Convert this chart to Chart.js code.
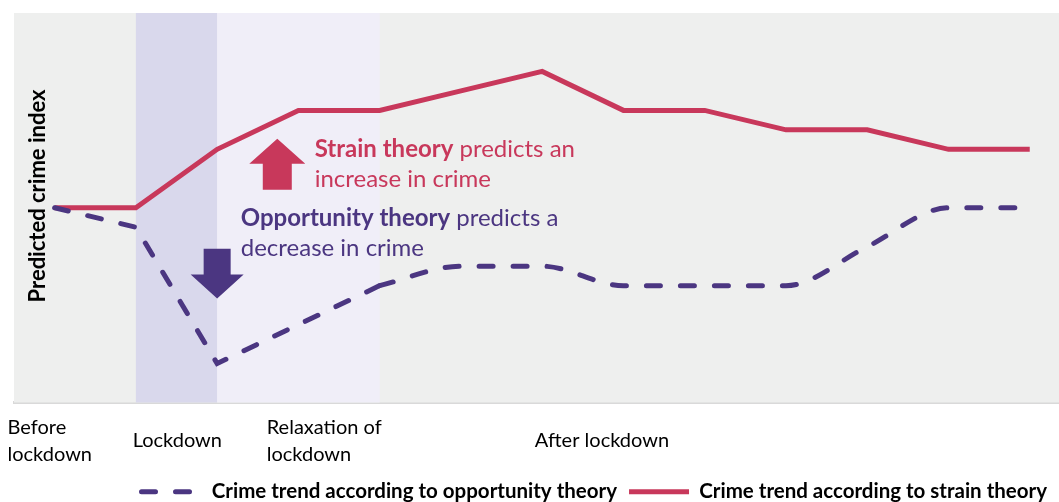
<!DOCTYPE html>
<html>
<head>
<meta charset="utf-8">
<script src="https://cdn.jsdelivr.net/npm/chart.js@4.4.1/dist/chart.umd.min.js"></script>
<style>
  html, body { margin: 0; padding: 0; background: #fff; }
  #wrap { width: 1059px; height: 502px; position: relative; }
</style>
</head>
<body>
<div id="wrap"><canvas id="chart"></canvas></div>
<script>
// x index of each point on the two trend lines
var steps = [0, 1, 2, 3, 4, 5, 6, 7, 8, 9, 10, 11, 12];
var strainTrend = [100, 100, 115, 125, 125, 130, 135, 125, 125, 120, 120, 115, 115];
var opportunityTrend = [100, 95, 60, 70, 80, 85, 85, 80, 80, 80, 90, 100, 100];
// opportunity line is straight up to this step, smoothed after it
var smoothFrom = 4;

// period labels under the axis, and the x index where each one starts
var periodLabels = [['Before', 'lockdown'], 'Lockdown', ['Relaxation of', 'lockdown'], 'After lockdown'];
var periodStarts = [-0.58, 0.96, 2.61, 5.91];

// shaded periods [from, to]
var lockdownBand = [1, 2];
var relaxationBand = [2, 4];

var seriesNames = ['Crime trend according to opportunity theory', 'Crime trend according to strain theory'];

var RED = '#C8385B', PURPLE = '#4B3681';
var FONT = 'Lato, "Open Sans", sans-serif';

function pts(from, to) {
  var out = [];
  for (var i = from; i <= to; i++) out.push({ x: steps[i], y: opportunityTrend[i] });
  return out;
}

// gray plot area + the two lavender bands
var backdrop = {
  id: 'backdrop',
  beforeDatasetsDraw: function(chart) {
    var ctx = chart.ctx, a = chart.chartArea, xs = chart.scales.x;
    ctx.save();
    ctx.fillStyle = '#EEEFEE';
    ctx.fillRect(a.left, a.top, a.right - a.left, a.bottom - a.top);
    ctx.fillStyle = '#D9D8EC';
    var x0 = xs.getPixelForValue(lockdownBand[0]), x1 = xs.getPixelForValue(lockdownBand[1]);
    ctx.fillRect(x0, a.top, x1 - x0, a.bottom - a.top);
    ctx.fillStyle = '#F0EEF8';
    x0 = xs.getPixelForValue(relaxationBand[0]); x1 = xs.getPixelForValue(relaxationBand[1]);
    ctx.fillRect(x0, a.top, x1 - x0, a.bottom - a.top);
    ctx.restore();
  }
};

function arrow(ctx, cx, tipY, baseY, shaftW, headW, headLen, color) {
  var d = baseY > tipY ? 1 : -1;
  ctx.fillStyle = color;
  ctx.beginPath();
  ctx.moveTo(cx, tipY);
  ctx.lineTo(cx + headW / 2, tipY + d * headLen);
  ctx.lineTo(cx + shaftW / 2, tipY + d * headLen);
  ctx.lineTo(cx + shaftW / 2, baseY);
  ctx.lineTo(cx - shaftW / 2, baseY);
  ctx.lineTo(cx - shaftW / 2, tipY + d * headLen);
  ctx.lineTo(cx - headW / 2, tipY + d * headLen);
  ctx.closePath();
  ctx.fill();
}

function mixed(ctx, x, y, bold, rest, color) {
  ctx.fillStyle = color;
  ctx.font = 'bold 24px ' + FONT;
  ctx.fillText(bold, x, y);
  var w = ctx.measureText(bold).width;
  ctx.font = '24px ' + FONT;
  ctx.fillText(rest, x + w, y);
}

// arrows, notes and the y title (sits inside the plot area)
var notes = {
  id: 'notes',
  afterDatasetsDraw: function(chart) {
    var ctx = chart.ctx, xs = chart.scales.x, ys = chart.scales.y, a = chart.chartArea;
    ctx.save();
    arrow(ctx, xs.getPixelForValue(2.74), ys.getPixelForValue(117.7), ys.getPixelForValue(104.6), 29, 56, 25, RED);
    arrow(ctx, xs.getPixelForValue(2.0), ys.getPixelForValue(76.7), ys.getPixelForValue(89.5), 27, 53, 24, PURPLE);

    ctx.textBaseline = 'middle';
    ctx.textAlign = 'left';
    var sx = xs.getPixelForValue(3.2);
    mixed(ctx, sx, ys.getPixelForValue(115), 'Strain theory', ' predicts an', RED);
    mixed(ctx, sx, ys.getPixelForValue(107.4), '', 'increase in crime', RED);
    var ox = xs.getPixelForValue(2.29);
    mixed(ctx, ox, ys.getPixelForValue(97.2), 'Opportunity theory', ' predicts a', PURPLE);
    mixed(ctx, ox, ys.getPixelForValue(89.5), '', 'decrease in crime', PURPLE);

    ctx.translate(a.left + 24, a.top + 183);
    ctx.rotate(-Math.PI / 2);
    ctx.textAlign = 'center';
    ctx.fillStyle = '#000';
    ctx.font = 'bold 22px ' + FONT;
    ctx.fillText('Predicted crime index', 0, 0);
    ctx.restore();
  }
};

var dashed = {
  borderColor: PURPLE, backgroundColor: PURPLE, borderWidth: 5,
  borderDash: [14, 20], borderCapStyle: 'round', pointRadius: 0
};

new Chart(document.getElementById('chart'), {
  type: 'line',
  data: {
    datasets: [
      Object.assign({ label: seriesNames[0], data: pts(0, smoothFrom), tension: 0 }, dashed),
      Object.assign({ label: '', data: pts(smoothFrom, steps.length - 1), cubicInterpolationMode: 'monotone' }, dashed),
      {
        label: seriesNames[1],
        data: steps.map(function(s, i) { return { x: s, y: strainTrend[i] }; }),
        borderColor: RED, backgroundColor: RED, borderWidth: 5, pointRadius: 0, tension: 0
      }
    ]
  },
  options: {
    responsive: true,
    maintainAspectRatio: false,
    animation: false,
    layout: { padding: { top: 13, left: 14, right: 0, bottom: -10 } },
    scales: {
      x: {
        type: 'linear', min: -0.5, max: 12.36, bounds: 'data',
        grid: { display: false, drawTicks: false },
        border: { color: '#D9D9D9', width: 3 },
        afterBuildTicks: function(axis) {
          axis.ticks = periodStarts.map(function(v) { return { value: v }; });
        },
        // padding is counted twice by the fit, take the extra back off
        afterFit: function(axis) {
          axis.height -= 37;
          axis.paddingLeft = 0;
          axis.paddingRight = 0;
        },
        ticks: {
          autoSkip: false, maxRotation: 0, align: 'start', crossAlign: 'center', padding: 25,
          color: '#000', font: { family: FONT, size: 20, lineHeight: 1.35 },
          callback: function(v, i) { return periodLabels[i]; }
        }
      },
      y: { type: 'linear', display: false, min: 50, max: 150 }
    },
    plugins: {
      legend: {
        position: 'bottom', align: 'end',
        labels: {
          usePointStyle: true, pointStyle: 'line', pointStyleWidth: 60,
          color: '#000', padding: 12,
          font: { family: FONT, size: 20.5, weight: 'bold' },
          filter: function(item) { return item.datasetIndex !== 1; },
          // point-style legend items lose the dash, put it back from the dataset
          generateLabels: function(chart) {
            var items = Chart.defaults.plugins.legend.labels.generateLabels(chart);
            items.forEach(function(it) {
              var ds = chart.data.datasets[it.datasetIndex];
              it.lineDash = ds.borderDash || [];
              it.lineCap = ds.borderCapStyle || 'butt';
              it.lineWidth = ds.borderWidth;
              it.strokeStyle = ds.borderColor;
            });
            return items;
          }
        }
      },
      tooltip: { enabled: false }
    }
  },
  plugins: [backdrop, notes]
});
</script>
</body>
</html>
